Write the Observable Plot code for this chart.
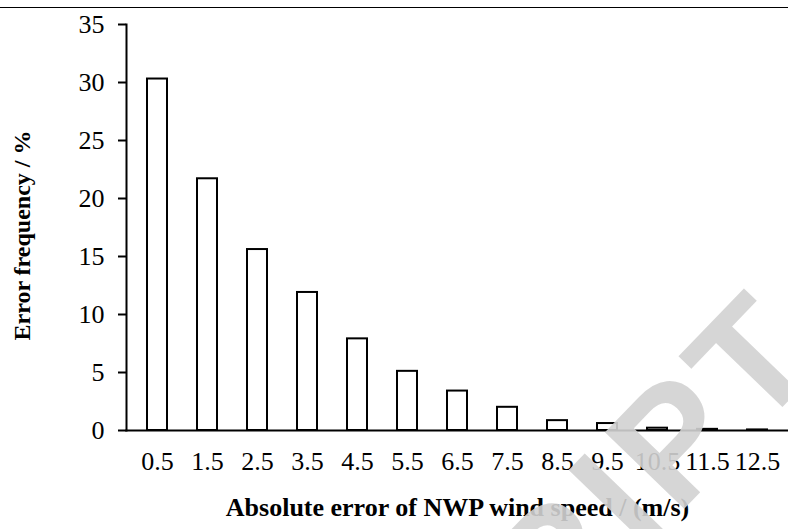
<!DOCTYPE html>
<html><head><meta charset="utf-8">
<script src="https://cdn.jsdelivr.net/npm/d3@7"></script>
<script src="https://cdn.jsdelivr.net/npm/@observablehq/plot@0.6"></script>
<style>
body{margin:0;background:#fff;}
#wrap{position:relative;width:788px;height:529px;overflow:hidden;background:#fff;}
#topline{position:absolute;left:0;top:7px;width:788px;height:0;border-top:1.5px solid #000;}
#chart{position:absolute;left:0;top:0;}
#wm{position:absolute;left:0;top:0;pointer-events:none;}
</style></head><body>
<div id="wrap"><div id="chart"></div><div id="topline"></div>
<svg id="wm" width="788" height="529"><text transform="translate(830,358) rotate(-46)" text-anchor="end" letter-spacing="8" font-family="'Liberation Sans', Arial, sans-serif" font-weight="bold" font-size="160" fill="#d2d2d2" fill-opacity="0.9">RIPT</text></svg>
</div>
<script>
const categories = ["0.5","1.5","2.5","3.5","4.5","5.5","6.5","7.5","8.5","9.5","10.5","11.5","12.5"];
const frequencies = [30.3, 21.7, 15.6, 11.9, 7.9, 5.1, 3.4, 2.0, 0.85, 0.6, 0.2, 0.1, 0.05];
const yTicks = [0, 5, 10, 15, 20, 25, 30, 35];
const xTitle = "Absolute error of NWP wind speed / (m/s)";
const yTitle = "Error frequency / %";

const data = categories.map((c, i) => ({bin: c, freq: frequencies[i]}));

const chart = Plot.plot({
  width: 788, height: 529,
  marginTop: 24, marginBottom: 99, marginLeft: 126, marginRight: 0,
  style: {fontFamily: "'Liberation Serif', 'Times New Roman', serif", fontSize: "26px", color: "#000", background: "transparent"},
  x: {domain: categories, paddingInner: 0.6, paddingOuter: 0.3, label: null},
  y: {domain: [0, 35], label: null},
  marks: [
    Plot.barY(data, {x: "bin", y: "freq", fill: "white", stroke: "black", strokeWidth: 2}),
    Plot.axisX({tickSize: 0, tickPadding: 21, label: null, fontSize: 26}),
    Plot.axisY({ticks: yTicks, tickSize: 8, tickPadding: 14, label: null, fontSize: 26, strokeWidth: 2}),
    Plot.frame({anchor: "left", strokeWidth: 2}),
    Plot.frame({anchor: "bottom", strokeWidth: 2}),
    Plot.text([yTitle], {text: d => d, frameAnchor: "left", textAnchor: "middle", rotate: -90, dx: -104, dy: 8, fontWeight: "bold", fontSize: 24}),
    Plot.text([xTitle], {text: d => d, frameAnchor: "bottom", textAnchor: "middle", dy: 85, fontWeight: "bold", fontSize: 26})
  ]
});
document.getElementById("chart").appendChild(chart);
</script>
</body></html>
